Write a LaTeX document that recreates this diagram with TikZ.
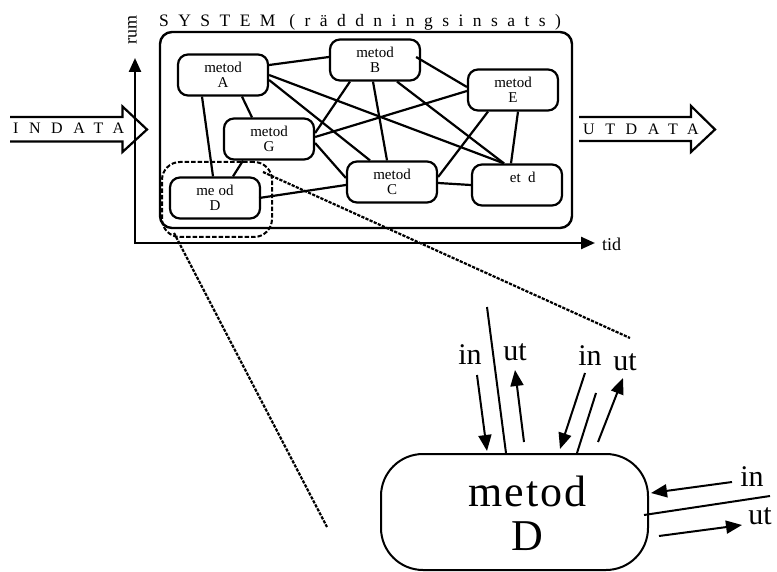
\documentclass[tikz,border=0pt]{standalone}
\usepackage{fontspec}
\setmainfont{Liberation Serif}
\usetikzlibrary{arrows.meta}
\begin{document}
\begin{tikzpicture}[x=1pt,y=-1pt,
  meth/.style={draw,line width=2.2pt,rounded corners=10pt,minimum width=90pt,minimum height=41pt,inner sep=0pt,align=center,font=\fontsize{15pt}{15pt}\selectfont},
  link/.style={line width=2.2pt},
  sysbox/.style={draw,line width=2.4pt,rounded corners=12pt,minimum width=412pt,minimum height=196pt,inner sep=0pt},
  fatarrow/.style={line width=2.2pt,line join=miter},
  axisln/.style={line width=2.4pt,{Triangle[length=14pt,width=12pt]}-{Triangle[length=14pt,width=12pt]}},
  spaced/.style={font={\fontsize{16pt}{18pt}\selectfont\addfontfeature{LetterSpace=66}}},
  zoomarea/.style={draw,line width=2pt,dash pattern=on 4.5pt off 2pt,rounded corners=18pt,minimum width=110pt,minimum height=75pt,inner sep=0pt},
  zoomln/.style={line width=2.2pt,dash pattern=on 3.2pt off 1.3pt},
  bigmeth/.style={draw,line width=2pt,rounded corners=42pt,minimum width=267pt,minimum height=116pt,inner sep=0pt},
  bigtext/.style={align=center,inner sep=0pt,font={\fontsize{44pt}{44pt}\selectfont\addfontfeature{LetterSpace=4}}},
  iolabel/.style={inner sep=0pt,font=\fontsize{30pt}{30pt}\selectfont},
  ioarrow/.style={line width=2pt,-{Triangle[length=16pt,width=13pt]}},
  ioline/.style={line width=2pt}
]
\useasboundingbox (0,0) rectangle (777,572);

% axes
\coordinate (O) at (135,243);
\coordinate (ytip) at (135,58);
\coordinate (xtip) at (595,243);
\draw[axisln] (ytip) -- (O) -- (xtip);
\node[rotate=90,inner sep=0pt,font=\fontsize{18pt}{20pt}\selectfont] (rum) at (132.5,30) {rum};
\node[anchor=west,inner sep=0pt,font=\fontsize{18pt}{20pt}\selectfont] (tid) at (602,244) {tid};

% system box
\node[sysbox] (sys) at (366,130) {};
\node[anchor=base west,inner sep=0pt,font={\fontsize{17.5pt}{20pt}\selectfont\addfontfeature{LetterSpace=54}}] (title) at (159,27) {SYSTEM (räddningsinsats)};

% INDATA / UTDATA
\draw[fatarrow] (10,117) -- (122.5,117) -- (122.5,106.5) -- (147,129.5) -- (122.5,152) -- (122.5,141.5) -- (10,141.5);
\node[anchor=base west,inner sep=0pt,spaced] (indata) at (13,134) {INDATA};
\draw[fatarrow] (579,117) -- (691,117) -- (691,106) -- (715,129.5) -- (691,152) -- (691,141) -- (579,141);
\node[anchor=base west,inner sep=0pt,spaced] (utdata) at (583,135) {UTDATA};

% method nodes
\node[meth] (A) at (223,75) {metod\\A};
\node[meth] (B) at (375,60) {metod\\B};
\node[meth] (E) at (513,90) {metod\\E};
\node[meth] (G) at (269,139) {metod\\G};
\node[meth] (C) at (392,182) {metod\\C};
\node[meth] (F) at (517,185) {\hphantom{m}et\hphantom{o}d\\\hphantom{F}};
\node[meth] (D) at (215,198) {me\hphantom{t}od\\D};

% connections
\draw[link] ([yshift=10pt]A.east) -- ([yshift=3pt]B.west);
\draw[link] (A.east) -- ([xshift=-13pt]F.north);
\draw[link] ([yshift=-5pt]A.east) -- ([xshift=-22pt]C.north);
\draw[link] ([yshift=6pt]G.east) -- ([xshift=-25pt]B.south);
\draw[link] ([yshift=2pt]G.east) -- ([yshift=-1pt]E.west);
\draw[link] ([yshift=-4pt]G.east) -- ([yshift=4pt]C.west);
\draw[link] ([xshift=-2pt]B.south) -- ([xshift=-5pt]C.north);
\draw[link] ([xshift=22pt]B.south) -- ([xshift=-13pt]F.north);
\draw[link] ([xshift=-5pt,yshift=3pt]B.east) -- ([yshift=3pt]E.west);
\draw[link] ([xshift=-25pt]E.south) -- ([yshift=5pt]C.east);
\draw[link] ([xshift=5pt]E.south) -- ([xshift=-6pt]F.north);
\draw[link] ([yshift=-1pt]C.east) -- (F.west);
\draw[link] ([xshift=-2pt]D.east) -- ([yshift=-3pt]C.west);
\draw[link] ([xshift=-21pt]A.south) -- ([xshift=-2pt]D.north);
\draw[link] ([xshift=-26pt]G.south) -- ([xshift=18pt]D.north);
\draw[link] ([xshift=19pt]A.south) -- ([xshift=-17pt]G.north);

% zoom area
\node[zoomarea] (za) at (217,199.5) {};
\coordinate (zA) at (630,338);
\coordinate (zB) at (327,527);
\draw[zoomln] ([xshift=-10pt,yshift=-11pt]za.north east) -- (zA);
\draw[zoomln] ([xshift=13pt,yshift=5pt]za.south west) -- (zB);

% big method D
\node[bigmeth] (Dbig) at (514.5,512) {};
\node[bigtext] (Dtext) at ([xshift=13pt,yshift=-1pt]Dbig.center) {metod\\D};

% in/ut labels
\node[iolabel] (in1) at (470,355) {in};
\node[iolabel] (ut1) at (515,352) {ut};
\node[iolabel] (in2) at (590,356) {in};
\node[iolabel] (ut2) at (625,362) {ut};
\node[iolabel] (in3) at (752,477) {in};
\node[iolabel] (ut3) at (760,516) {ut};

% arrows
\coordinate (a1s) at (477,375); \coordinate (a1e) at (487,451);
\coordinate (l1s) at (487,307);
\coordinate (a2s) at (524,442); \coordinate (a2e) at (515,370);
\coordinate (a3s) at (585,373); \coordinate (a3e) at (560,449);
\coordinate (l2s) at (596,393);
\coordinate (a4s) at (598,442); \coordinate (a4e) at (623,378);
\coordinate (a5s) at (732,482); \coordinate (a5e) at (651,493);
\coordinate (l3s) at (770,496);
\coordinate (a6s) at (659,536); \coordinate (a6e) at (742,525);
\draw[ioarrow] (a1s) -- (a1e);
\draw[ioline] (l1s) -- ([xshift=-8.5pt]Dbig.north);
\draw[ioarrow] (a2s) -- (a2e);
\draw[ioarrow] (a3s) -- (a3e);
\draw[ioline] (l2s) -- ([xshift=62.5pt]Dbig.north);
\draw[ioarrow] (a4s) -- (a4e);
\draw[ioarrow] (a5s) -- (a5e);
\draw[ioline] (l3s) -- ([xshift=-5pt,yshift=-3pt]Dbig.east);
\draw[ioarrow] (a6s) -- (a6e);
\end{tikzpicture}
\end{document}
